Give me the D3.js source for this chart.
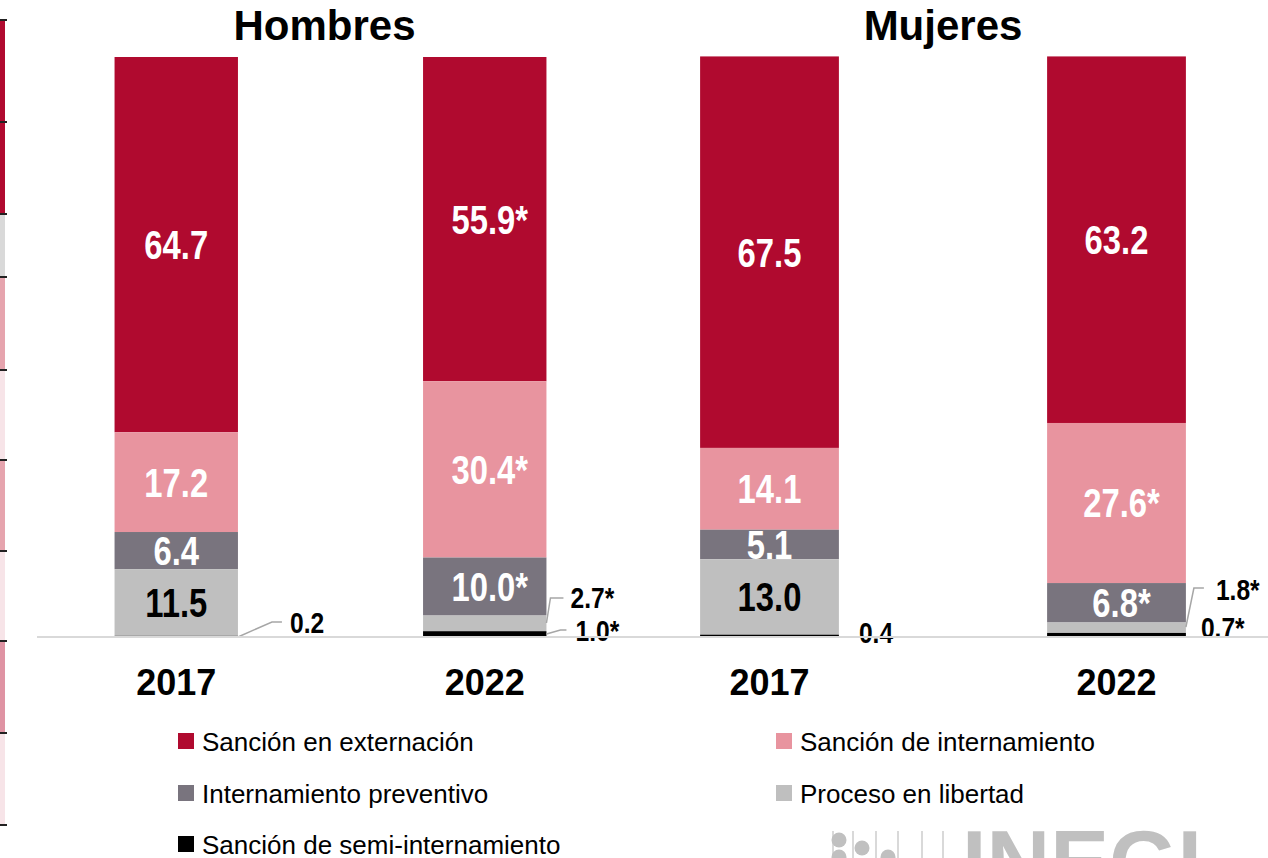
<!DOCTYPE html>
<html>
    <head>
        <meta charset="utf-8" />
        <script src="https://d3js.org/d3.v7.min.js"></script>
        <style>
            body {
                margin: 0;
                background: #fff;
            }
            svg {
                display: block;
            }
            .narrow {
                font-family: "Liberation Sans", Arial, sans-serif;
                font-weight: bold;
            }
            .wide {
                font-family: "Liberation Sans", Arial, sans-serif;
            }
        </style>
    </head>
    <body>
        <svg id="chart" width="1268" height="858"></svg>
        <script>
            // data
            var groups = ["Hombres", "Mujeres"];
            var years = ["2017", "2022"];
            var categories = [
                "Sanción en externación",
                "Sanción de internamiento",
                "Internamiento preventivo",
                "Proceso en libertad",
                "Sanción de semi-internamiento"
            ];
            // one array per category, order: Hombres 2017, Hombres 2022, Mujeres 2017, Mujeres 2022
            var externacion = [64.7, 55.9, 67.5, 63.2];
            var internamiento = [17.2, 30.4, 14.1, 27.6];
            var preventivo = [6.4, 10.0, 5.1, 6.8];
            var libertad = [11.5, 2.7, 13.0, 1.8];
            var semiInternamiento = [0.2, 1.0, 0.4, 0.7];
            // significance marks (*) per category, same order
            var starExternacion = [false, true, false, false];
            var starInternamiento = [false, true, false, true];
            var starPreventivo = [false, true, false, true];
            var starLibertad = [false, true, false, true];
            var starSemi = [false, true, false, true];

            // neighbour chart sliver seen at the left edge
            var edgeValues = [10.2, 9.2, 6.3, 9.3, 9.0, 9.1, 9.0, 9.2, 9.2];
            var edgeColors = ["#b00a2f", "#b00a2f", "#d9d9d9", "#e6a4ae", "#f7e4e8",
                              "#e6a4ae", "#f7e4e8", "#df93a3", "#f7e4e8"];

            var colors = ["#b00a2f", "#e8949f", "#79747e", "#bfbfbf", "#000000"];
            var textColors = ["#fff", "#fff", "#fff", "#000", "#000"];

            var series = [externacion, internamiento, preventivo, libertad, semiInternamiento];
            var stars = [starExternacion, starInternamiento, starPreventivo, starLibertad, starSemi];

            var svg = d3.select("#chart");

            var y = d3.scaleLinear().domain([0, 100]).range([637, 57]);

            var panelRanges = {"Hombres": [22, 639], "Mujeres": [596, 1290]};
            var titleShift = {"Hombres": -6, "Mujeres": 0};
            var xScales = {};
            groups.forEach(function(g) {
                xScales[g] = d3.scaleBand()
                    .domain(years)
                    .range(panelRanges[g])
                    .paddingInner(0.6)
                    .paddingOuter(0.3);
            });

            // build stacked table, bottom of stack is the last category
            var bars = [];
            groups.forEach(function(g, gi) {
                years.forEach(function(yr, yi) {
                    var idx = gi * 2 + yi;
                    var segs = [];
                    var base = 0;
                    for (var ci = series.length - 1; ci >= 0; ci--) {
                        var v = series[ci][idx];
                        segs[ci] = {cat: ci, v: v, y0: base, y1: base + v, star: stars[ci][idx]};
                        base += v;
                    }
                    bars.push({group: g, year: yr, idx: idx, segs: segs});
                });
            });

            // condensed bold text, drawn by squeezing Liberation Sans
            function narrowText(sel, x, yy, size) {
                return sel.append("text")
                    .attr("class", "narrow")
                    .attr("font-size", size)
                    .attr("transform", "translate(" + x + "," + yy + ") scale(0.82,1)");
            }

            // left sliver
            var edgeY = d3.scaleLinear().domain([0, d3.sum(edgeValues)]).range([20, 825]);
            var acc = 0;
            var edgeData = edgeValues.map(function(v, i) {
                var d = {a: acc, b: acc + v, c: edgeColors[i]};
                acc += v;
                return d;
            });
            svg.selectAll(".edge").data(edgeData).enter().append("rect")
                .attr("x", 0).attr("width", 5)
                .attr("y", function(d) { return edgeY(d.a); })
                .attr("height", function(d) { return edgeY(d.b) - edgeY(d.a); })
                .attr("fill", function(d) { return d.c; });
            svg.selectAll(".edgeTick").data(d3.range(edgeValues.length + 1)).enter().append("line")
                .attr("x1", 0).attr("x2", 7)
                .attr("y1", function(i) { return edgeY(i === 0 ? 0 : edgeData[i - 1].b); })
                .attr("y2", function(i) { return edgeY(i === 0 ? 0 : edgeData[i - 1].b); })
                .attr("stroke", "#222").attr("stroke-width", 2);

            // titles
            groups.forEach(function(g) {
                var xs = xScales[g];
                var cx = (xs(years[0]) + xs(years[1]) + xs.bandwidth()) / 2;
                svg.append("text")
                    .attr("class", "wide")
                    .attr("x", cx + titleShift[g]).attr("y", 40)
                    .attr("text-anchor", "middle")
                    .attr("font-size", 42).attr("font-weight", "bold")
                    .text(g);
            });

            // bars
            bars.forEach(function(b) {
                var xs = xScales[b.group];
                svg.append("g").selectAll("rect").data(b.segs).enter().append("rect")
                    .attr("x", xs(b.year))
                    .attr("width", xs.bandwidth())
                    .attr("y", function(s) { return y(s.y1); })
                    .attr("height", function(s) { return y(s.y0) - y(s.y1); })
                    .attr("fill", function(s) { return colors[s.cat]; });
            });

            function fmt(s) { return s.v.toFixed(1) + (s.star ? "*" : ""); }

            // inside labels (segments big enough)
            var innerSize = 40;
            bars.forEach(function(b) {
                var xs = xScales[b.group];
                b.segs.filter(function(s) { return s.v >= 5; }).forEach(function(s) {
                    var cx = xs(b.year) + xs.bandwidth() / 2 + (s.star ? 5 : 0);
                    var cy = (y(s.y0) + y(s.y1)) / 2 + innerSize * 0.36;
                    narrowText(svg, cx, cy, innerSize)
                        .attr("text-anchor", "middle")
                        .attr("fill", textColors[s.cat])
                        .text(fmt(s));
                });
            });

            // outside labels with leaders: bar idx, category, label dx, baseline dy, leader points
            var outside = [
                {idx: 0, cat: 4, dx: 52, dy: -4, leader: [[0, 0], [34, -15], [44, -15]]},
                {idx: 1, cat: 3, dx: 24, dy: -29, leader: [[0, -14], [4, -39], [17, -39]]},
                {idx: 1, cat: 4, dx: 29, dy: 4, leader: [[0, -3], [14, -7], [20, -7]]},
                {idx: 2, cat: 4, dx: 20, dy: 6, leader: null},
                {idx: 3, cat: 3, dx: 30, dy: -37, leader: [[0, -10], [8, -49], [18, -49]]},
                {idx: 3, cat: 4, dx: 15, dy: 1, leader: null}
            ];
            var line = d3.line();
            outside.forEach(function(o) {
                var b = bars[o.idx];
                var xs = xScales[b.group];
                var x1 = xs(b.year) + xs.bandwidth();
                var y0 = y(0);
                if (o.leader) {
                    svg.append("path")
                        .attr("d", line(o.leader.map(function(p) { return [x1 + p[0], y0 + p[1]]; })))
                        .attr("fill", "none")
                        .attr("stroke", "#a6a6a6")
                        .attr("stroke-width", 1.5);
                }
                narrowText(svg, x1 + o.dx, y0 + o.dy, 30)
                    .attr("fill", "#000")
                    .text(fmt(b.segs[o.cat]));
            });

            // baseline
            svg.append("line")
                .attr("x1", 37).attr("x2", 1268)
                .attr("y1", y(0)).attr("y2", y(0))
                .attr("stroke", "#d9d9d9").attr("stroke-width", 2);

            // year labels
            bars.forEach(function(b) {
                var xs = xScales[b.group];
                svg.append("text")
                    .attr("class", "wide")
                    .attr("font-size", 36).attr("font-weight", "bold")
                    .attr("text-anchor", "middle")
                    .attr("x", xs(b.year) + xs.bandwidth() / 2)
                    .attr("y", 695)
                    .text(b.year);
            });

            // legend
            var legendCols = [178, 776];
            var legendRows = [741, 793, 844];
            categories.forEach(function(name, ci) {
                var lx = legendCols[ci % 2];
                var ly = legendRows[Math.floor(ci / 2)];
                svg.append("rect")
                    .attr("x", lx).attr("y", ly - 8)
                    .attr("width", 16).attr("height", 16)
                    .attr("fill", colors[ci]);
                svg.append("text")
                    .attr("class", "wide")
                    .attr("font-size", 26)
                    .attr("x", lx + 24).attr("y", ly + 9.5)
                    .text(name);
            });

            // watermark logo (cropped at the bottom)
            var logo = svg.append("g").attr("fill", "#c0c0c0").attr("stroke", "#c0c0c0");
            [[839, 840], [839, 857], [862, 848], [888, 857]].forEach(function(p) {
                logo.append("circle").attr("cx", p[0]).attr("cy", p[1]).attr("r", 7.5).attr("stroke", "none");
            });
            [833, 853, 876, 898, 922, 943].forEach(function(x) {
                logo.append("line").attr("x1", x).attr("x2", x).attr("y1", 831).attr("y2", 858)
                    .attr("stroke-width", 1.2);
            });
            logo.append("text")
                .attr("class", "wide")
                .attr("stroke", "none")
                .attr("font-size", 90).attr("font-weight", "bold")
                .attr("x", 962).attr("y", 894)
                .attr("textLength", 240).attr("lengthAdjust", "spacingAndGlyphs")
                .text("INEGI");
        </script>
    </body>
</html>
